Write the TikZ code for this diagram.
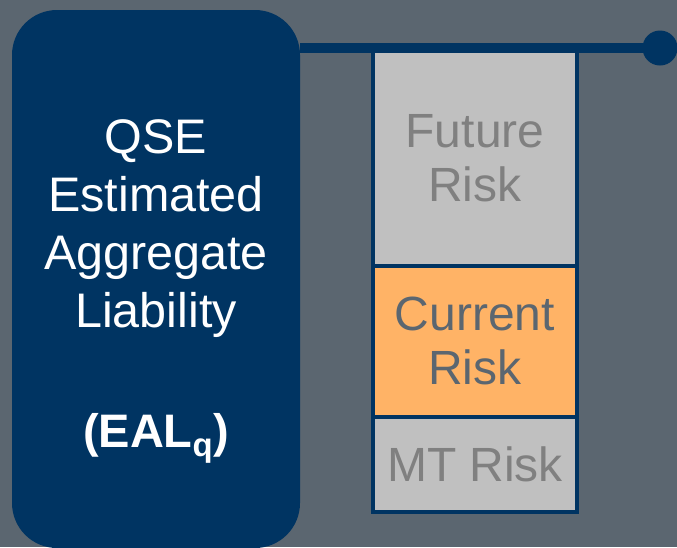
\documentclass[tikz,border=0pt]{standalone}
\usepackage{fontspec}
\setmainfont{Liberation Sans}
\definecolor{slate}{HTML}{5B6670}
\definecolor{navy}{HTML}{003462}
\definecolor{riskgrey}{HTML}{C0C0C0}
\definecolor{riskorange}{HTML}{FFB366}
\definecolor{textgrey}{HTML}{808080}
\tikzstyle{liability} = [rectangle, rounded corners=45pt, minimum width=288pt, minimum height=538pt, fill=navy, inner sep=0pt]
\tikzstyle{riskbox} = [rectangle, minimum width=204pt, draw=navy, line width=4pt, text=textgrey, align=center, inner sep=0pt, font=\fontsize{48}{54}\selectfont]
\tikzstyle{link} = [draw=navy, line width=10pt]

\begin{document}
\begin{tikzpicture}[x=1pt,y=-1pt]
	\tikzset{bigtext/.style={text=white, align=center, inner sep=0pt, font=\fontsize{48.5}{58}\selectfont}}
	\useasboundingbox[fill=slate] (0,0) rectangle (677,547);
	\node[liability] (qse) at (156,279) {};
	\node[bigtext] (qsetext) at (156,229) {QSE\\Estimated\\Aggregate\\Liability};
	\node[bigtext, anchor=base, font=\fontsize{47}{57}\selectfont\bfseries] (eal) at (156,447) {(EAL\textsubscript{q})};
	\node[riskbox, fill=riskgrey, minimum height=214.5pt] (future) at (475,158.25) {Future\\Risk};
	\node[riskbox, fill=riskorange, text=slate, minimum height=151.5pt] (current) at (475,341.25) {Current\\Risk};
	\node[riskbox, fill=riskgrey, minimum height=95pt] (mt) at (475,464.5) {MT Risk};
	\node[circle, fill=navy, minimum size=35pt, inner sep=0pt] (dot) at (660,48) {};
	\draw[link] (dot.center) -- (dot -| qse.east);
\end{tikzpicture}
\end{document}
